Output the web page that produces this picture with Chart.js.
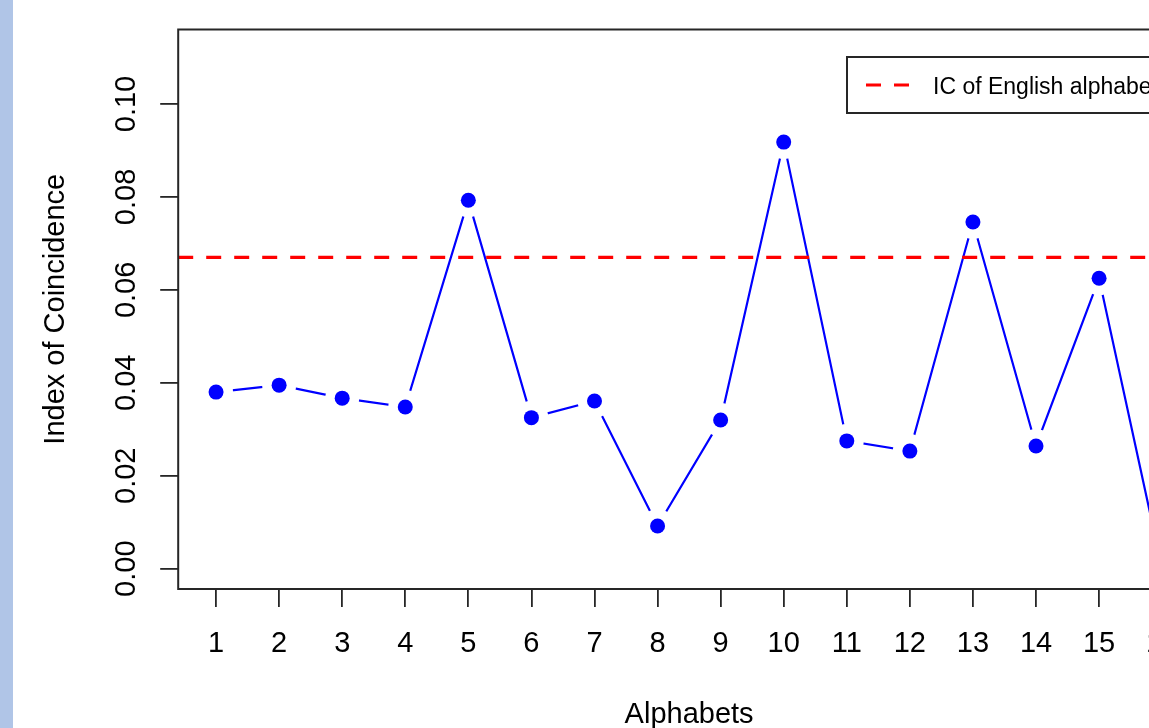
<!DOCTYPE html>
<html>
<head>
<meta charset="utf-8">
<script src="https://cdn.jsdelivr.net/npm/chart.js@4"></script>
<style>
  html, body { margin: 0; padding: 0; background: #ffffff; overflow: hidden; width: 1149px; height: 728px; }
  #wrap { position: absolute; left: 0; top: 0; width: 1230px; height: 728px; }
  #strip { position: absolute; left: 0; top: 0; width: 13px; height: 728px; background: #b0c5e7; z-index: 2; }
</style>
</head>
<body>
<div id="wrap"><canvas id="c" width="1230" height="728"></canvas></div>
<div id="strip"></div>
<script>
// ---- data ----
const alphabets = [1, 2, 3, 4, 5, 6, 7, 8, 9, 10, 11, 12, 13, 14, 15, 16];
const icValues = [0.0380, 0.0395, 0.0367, 0.0348, 0.0793, 0.0325, 0.0361, 0.0092,
                  0.0320, 0.0918, 0.0275, 0.0253, 0.0746, 0.0264, 0.0625, 0.0000];
const englishIC = 0.067;
const xTickLabels = ['1','2','3','4','5','6','7','8','9','10','11','12','13','14','15','16'];
const yTickValues = [0.00, 0.02, 0.04, 0.06, 0.08, 0.10];
const seriesLabel = 'IC of English alphabet';
const xTitle = 'Alphabets';
const yTitle = 'Index of Coincidence';

const pts = alphabets.map((a, i) => ({ x: a, y: icValues[i] }));
const xMin = 0.4, xMax = 16.6;

const FONT = 'Liberation Sans, Arial, Helvetica, sans-serif';

const boxPlugin = {
  id: 'rbox',
  afterDraw(chart) {
    const { ctx, chartArea: a } = chart;
    ctx.save();
    ctx.strokeStyle = '#262626';
    ctx.lineWidth = 2;
    ctx.strokeRect(a.left, a.top, a.right - a.left, a.bottom - a.top);
    // legend box (R style)
    const ds = chart.data.datasets[0];
    const lx = 847, ly = 57, lh = 56;
    ctx.fillStyle = '#ffffff';
    ctx.fillRect(lx, ly, 330, lh);
    ctx.strokeRect(lx, ly, 330, lh);
    ctx.strokeStyle = ds.borderColor;
    ctx.lineWidth = ds.borderWidth;
    ctx.setLineDash(ds.borderDash);
    ctx.beginPath();
    ctx.moveTo(866, ly + lh / 2);
    ctx.lineTo(912, ly + lh / 2);
    ctx.stroke();
    ctx.setLineDash([]);
    ctx.fillStyle = '#000000';
    ctx.font = '23px ' + FONT;
    ctx.textBaseline = 'middle';
    ctx.textAlign = 'left';
    ctx.fillText(ds.label, 933, ly + lh / 2 + 3);
    ctx.restore();
  }
};

new Chart(document.getElementById('c'), {
  type: 'scatter',
  data: {
    datasets: [
      {
        label: seriesLabel,
        data: [{ x: xMin, y: englishIC }, { x: xMax, y: englishIC }],
        showLine: true,
        borderColor: '#ff0000',
        borderWidth: 3.2,
        borderDash: [15, 13],
        pointRadius: 0,
        order: 0
      },
      {
        label: 'points',
        data: pts,
        showLine: false,
        pointRadius: 7.5,
        pointBackgroundColor: '#0000ff',
        pointBorderWidth: 0,
        order: 1
      },
      {
        label: 'gaps',
        data: pts,
        showLine: false,
        pointRadius: 17,
        pointBackgroundColor: '#ffffff',
        pointBorderWidth: 0,
        order: 2
      },
      {
        label: 'line',
        data: pts,
        showLine: true,
        borderColor: '#0000ff',
        borderWidth: 2.2,
        pointRadius: 0,
        order: 3
      }
    ]
  },
  options: {
    responsive: false,
    animation: false,
    devicePixelRatio: 1,
    layout: { padding: { left: 0, top: 29.5, right: 30, bottom: 0 }, autoPadding: false },
    plugins: { legend: { display: false }, tooltip: { enabled: false } },
    events: [],
    scales: {
      x: {
        type: 'linear',
        min: xMin,
        max: xMax,
        afterFit(s) { s.height = 139; },
        afterBuildTicks(s) { s.ticks = alphabets.map(v => ({ value: v })); },
        ticks: {
          includeBounds: false,
          autoSkip: false,
          maxRotation: 0,
          padding: 20,
          color: '#000000',
          font: { family: FONT, size: 29 },
          callback: (v) => xTickLabels[alphabets.indexOf(v)] ?? ''
        },
        grid: { display: true, drawOnChartArea: false, drawTicks: true, tickLength: 18, color: '#262626', lineWidth: 1.8 },
        border: { display: false },
        title: { display: true, text: xTitle, color: '#000000', font: { family: FONT, size: 29, lineHeight: 0.8 }, padding: { top: 0, bottom: 1 } }
      },
      y: {
        type: 'linear',
        min: -0.00437,
        max: 0.11603,
        afterFit(s) { s.width = 178.2; },
        afterBuildTicks(s) { s.ticks = yTickValues.map(v => ({ value: v })); },
        ticks: {
          includeBounds: false,
          autoSkip: false,
          minRotation: 90,
          maxRotation: 90,
          crossAlign: 'center',
          padding: 5,
          color: '#000000',
          font: { family: FONT, size: 29 },
          callback: (v) => Number(v).toFixed(2)
        },
        grid: { display: true, drawOnChartArea: false, drawTicks: true, tickLength: 18, color: '#262626', lineWidth: 1.8 },
        border: { display: false },
        title: { display: true, text: yTitle, color: '#000000', font: { family: FONT, size: 29 }, padding: { top: 39, bottom: 0 } }
      }
    }
  },
  plugins: [boxPlugin]
});
</script>
</body>
</html>
